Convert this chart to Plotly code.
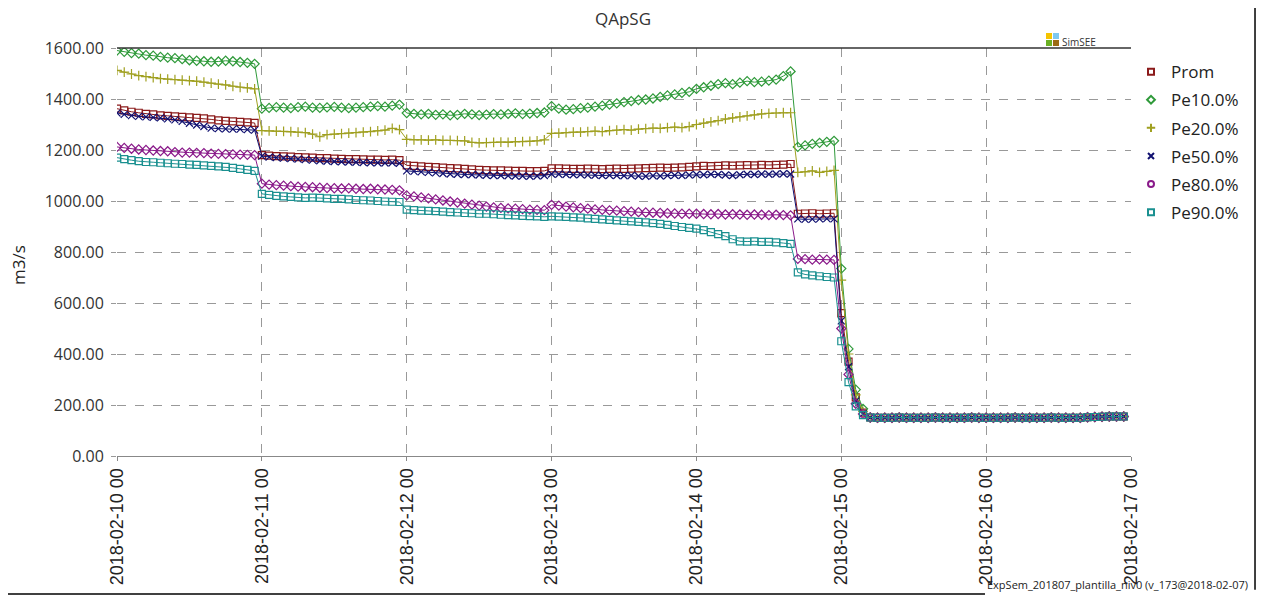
import pandas as pd
import plotly.graph_objects as go

# Zeitachse: 72-min Schritte vom 10.02. bis 16.02.
tiempos = pd.date_range("2018-02-10 00:00", periods=140, freq="72min")

# gemeinsamer Endabschnitt (15.02 04:48 bis 16.02 22:48), alle Reihen ~150
cola = [151, 150, 150, 150, 151, 150, 150, 150, 150, 151, 150, 150,
        150, 150, 151, 150, 150, 150, 150, 150, 151, 150, 150, 150,
        150, 151, 150, 150, 150, 150, 152, 153, 154, 155, 155, 155]

prom = [1362, 1355, 1350, 1346, 1342, 1340, 1336, 1334, 1332, 1330, 1328, 1326, 1324, 1320, 1316, 1314, 1312, 1310, 1308, 1306,
        1180, 1178, 1176, 1175, 1174, 1172, 1171, 1170, 1168, 1168, 1166, 1165, 1164, 1164, 1163, 1162, 1162, 1161, 1162, 1160,
        1140, 1138, 1136, 1134, 1133, 1131, 1129, 1128, 1126, 1124, 1122, 1121, 1120, 1120, 1119, 1118, 1118, 1117, 1117, 1118,
        1128, 1128, 1127, 1126, 1126, 1127, 1126, 1125, 1126, 1127, 1126, 1127, 1128, 1129, 1130, 1131, 1130, 1131, 1132, 1134,
        1136, 1138, 1137, 1138, 1140, 1139, 1140, 1141, 1140, 1142, 1141, 1142, 1143, 1145, 950, 951, 952, 950, 951, 952,
        560, 370, 230, 170]

pe10 = [1590, 1585, 1580, 1578, 1572, 1570, 1565, 1562, 1560, 1556, 1552, 1550, 1548, 1546, 1547, 1550, 1548, 1545, 1542, 1538,
        1362, 1365, 1368, 1366, 1364, 1368, 1370, 1366, 1365, 1367, 1369, 1366, 1364, 1366, 1368, 1370, 1372, 1370, 1374, 1378,
        1345, 1342, 1340, 1342, 1338, 1340, 1336, 1338, 1342, 1340, 1337, 1339, 1341, 1340, 1342, 1344, 1341, 1343, 1345, 1347,
        1372, 1362, 1358, 1360, 1364, 1366, 1370, 1374, 1378, 1383, 1388, 1392, 1396, 1398, 1402, 1408, 1414, 1418, 1424, 1428,
        1440, 1446, 1452, 1458, 1462, 1458, 1464, 1470, 1466, 1468, 1472, 1476, 1490, 1508, 1212, 1218, 1224, 1228, 1232, 1236,
        735, 420, 260, 185]

pe20 = [1512, 1505, 1498, 1492, 1488, 1484, 1480, 1478, 1476, 1474, 1472, 1470, 1466, 1462, 1458, 1455, 1450, 1446, 1444, 1440,
        1276, 1275, 1274, 1273, 1272, 1270, 1268, 1262, 1252, 1260, 1262, 1264, 1266, 1268, 1270, 1272, 1275, 1278, 1285, 1280,
        1242, 1240, 1240, 1239, 1240, 1238, 1238, 1237, 1236, 1230, 1228, 1229, 1230, 1231, 1230, 1232, 1233, 1234, 1236, 1240,
        1265, 1266, 1268, 1270, 1270, 1272, 1274, 1272, 1276, 1278, 1280, 1278, 1282, 1284, 1286, 1285, 1288, 1290, 1288, 1292,
        1300, 1305, 1310, 1315, 1322, 1326, 1330, 1334, 1338, 1342, 1344, 1345, 1346, 1346, 1112, 1114, 1118, 1112, 1116, 1120,
        690, 400, 240, 175]

pe50 = [1345, 1340, 1335, 1332, 1330, 1328, 1326, 1322, 1318, 1312, 1305, 1298, 1292, 1286, 1284, 1283, 1282, 1282, 1280, 1278,
        1176, 1172, 1170, 1168, 1166, 1164, 1162, 1160, 1158, 1156, 1155, 1154, 1153, 1152, 1151, 1150, 1150, 1149, 1150, 1148,
        1118, 1116, 1114, 1112, 1110, 1108, 1106, 1105, 1104, 1103, 1102, 1101, 1100, 1100, 1099, 1098, 1098, 1097, 1098, 1100,
        1106, 1105, 1104, 1103, 1104, 1102, 1101, 1100, 1101, 1100, 1099, 1100, 1098, 1097, 1099, 1098, 1100, 1101, 1100, 1102,
        1104, 1103, 1105, 1104, 1102, 1100, 1103, 1105, 1104, 1106, 1105, 1106, 1107, 1106, 930, 928, 929, 930, 931, 930,
        530, 350, 215, 165]

pe80 = [1212, 1208, 1205, 1202, 1200, 1198, 1196, 1195, 1192, 1190, 1190, 1189, 1188, 1186, 1185, 1184, 1183, 1182, 1181, 1180,
        1068, 1064, 1062, 1060, 1058, 1056, 1055, 1054, 1052, 1051, 1050, 1049, 1050, 1048, 1047, 1048, 1046, 1045, 1044, 1042,
        1022, 1018, 1014, 1010, 1006, 1002, 998, 994, 990, 986, 982, 978, 975, 973, 971, 970, 968, 966, 965, 964,
        985, 982, 978, 975, 972, 970, 967, 965, 963, 962, 960, 958, 956, 955, 954, 953, 952, 951, 950, 950,
        950, 949, 948, 949, 947, 948, 947, 946, 947, 946, 945, 946, 945, 944, 773, 772, 770, 771, 770, 769,
        500, 320, 205, 165]

pe90 = [1170, 1164, 1160, 1156, 1153, 1152, 1150, 1148, 1146, 1145, 1143, 1142, 1140, 1138, 1136, 1134, 1130, 1126, 1122, 1118,
        1028, 1024, 1020, 1018, 1016, 1014, 1012, 1013, 1012, 1010, 1008, 1008, 1006, 1004, 1003, 1002, 1000, 998, 997, 996,
        966, 964, 962, 961, 960, 958, 956, 955, 953, 952, 950, 950, 948, 946, 945, 944, 942, 941, 940, 938,
        940, 939, 938, 936, 935, 932, 930, 928, 926, 924, 922, 920, 918, 916, 913, 910, 906, 902, 898, 895,
        892, 886, 878, 870, 862, 850, 842, 841, 842, 840, 840, 838, 835, 832, 720, 712, 708, 705, 702, 700,
        450, 290, 195, 160]

nombres = ["Prom", "Pe10.0%", "Pe20.0%", "Pe50.0%", "Pe80.0%", "Pe90.0%"]
series = [prom, pe10, pe20, pe50, pe80, pe90]
colores = ["#8b1a1a", "#2f9a3a", "#a0a020", "#101070", "#8a1a8a", "#1a9090"]
simbolos = ["square-open", "diamond-open", "cross-thin", "x-thin", "diamond-open", "square-open"]
simbolos_leyenda = ["square-open", "diamond-open", "cross-thin", "x-thin", "circle-open", "square-open"]

fig = go.Figure()

for nombre, valores, color, simb in zip(nombres, series, colores, simbolos):
    fig.add_trace(go.Scatter(
        x=tiempos, y=valores + cola, name=nombre, mode="lines+markers",
        line=dict(color=color, width=1),
        marker=dict(symbol=simb, size=7, color=color, line=dict(color=color, width=1.2)),
        showlegend=False,
    ))

# Legende nur mit Markern, jede Zeile eigene Gruppe wegen Abstand
for nombre, color, simb in zip(nombres, colores, simbolos_leyenda):
    fig.add_trace(go.Scatter(
        x=[None], y=[None], name=nombre, mode="markers", legendgroup=nombre,
        marker=dict(symbol=simb, size=6, color=color, line=dict(color=color, width=2)),
    ))

# Seite hat 8px Rand -> Figur etwas kleiner
fig.update_layout(
    width=1250, height=587,
    margin=dict(l=109, r=127, t=40, b=139),
    paper_bgcolor="white", plot_bgcolor="white",
    title=dict(text="QApSG", x=0.499 * 1014 / 1250 + 109 / 1250, xanchor="center",
               y=1 - 11 / 587, yanchor="middle",
               font=dict(family="Open Sans", size=17, color="#333")),
    legend=dict(x=1.0, y=0.985, xanchor="left", yanchor="top",
                font=dict(family="Open Sans", size=17, color="#222"),
                itemwidth=30, tracegroupgap=3),
    font=dict(family="Open Sans", color="#333"),
)

fig.update_xaxes(
    range=["2018-02-10 00:00", "2018-02-17 00:00"],
    tickformat="%Y-%m-%d %H", dtick=86400000, tick0="2018-02-10",
    tickangle=-90, tickfont=dict(family="Liberation Sans", size=18, color="#222"),
    showgrid=True, gridcolor="#999", griddash="dash", gridwidth=1,
    showline=True, linecolor="#888", linewidth=1, mirror=False,
    ticks="outside", ticklen=4, tickcolor="#888", zeroline=False, automargin=False,
)
fig.update_yaxes(
    range=[0, 1600], dtick=200, tickformat=".2f",
    tickfont=dict(family="Open Sans", size=16, color="#333"),
    showgrid=True, gridcolor="#999", griddash="dash", gridwidth=1,
    showline=False, zeroline=False, ticks="outside", ticklen=5, tickcolor="#999",
    ticklabelstandoff=4, automargin=False,
)

# Achsentitel als Annotation
fig.add_annotation(text="m3/s", xref="paper", yref="paper", x=(18 - 117) / 1014, y=(456 - 265) / 408,
                   textangle=-90, showarrow=False, xanchor="center", yanchor="middle",
                   font=dict(family="Open Sans", size=17, color="#222"))

# obere Rahmenlinie
fig.add_shape(type="line", xref="paper", yref="paper", x0=0, x1=1, y0=1, y1=1,
              line=dict(color="#333", width=1.5))
# Bildrahmen rechts und unten
fig.add_shape(type="line", xref="paper", yref="paper", x0=1.1223, x1=1.1223, y0=-0.328, y1=1.12,
              line=dict(color="black", width=1.5))
fig.add_shape(type="line", xref="paper", yref="paper", x0=-0.12, x1=0.856, y0=-0.338, y1=-0.338,
              line=dict(color="black", width=1.5))

# SimSEE Logo
logo = [("#f5c400", 1046, 33), ("#7ec8f0", 1053, 33), ("#6ab023", 1046, 40), ("#9b6a14", 1053, 40)]
for col, px, py in logo:
    fig.add_shape(type="rect", xref="paper", yref="paper",
                  x0=(px - 117) / 1014, x1=(px + 6 - 117) / 1014,
                  y0=(456 - py - 6) / 408, y1=(456 - py) / 408,
                  fillcolor=col, line=dict(width=0))
fig.add_annotation(text="SimSEE", xref="paper", yref="paper", x=(1060 - 117) / 1014, y=(456 - 42) / 408,
                   xanchor="left", yanchor="middle", showarrow=False,
                   font=dict(family="Open Sans", size=10, color="#333"))

fig.add_annotation(text="ExpSem_201807_plantilla_niv0 (v_173@2018-02-07)", xref="paper", yref="paper",
                   x=(1250 - 117) / 1014, y=(456 - 584) / 408, xanchor="right", yanchor="middle",
                   showarrow=False, font=dict(family="Open Sans", size=11, color="#222"))

fig.write_html("out.html")
